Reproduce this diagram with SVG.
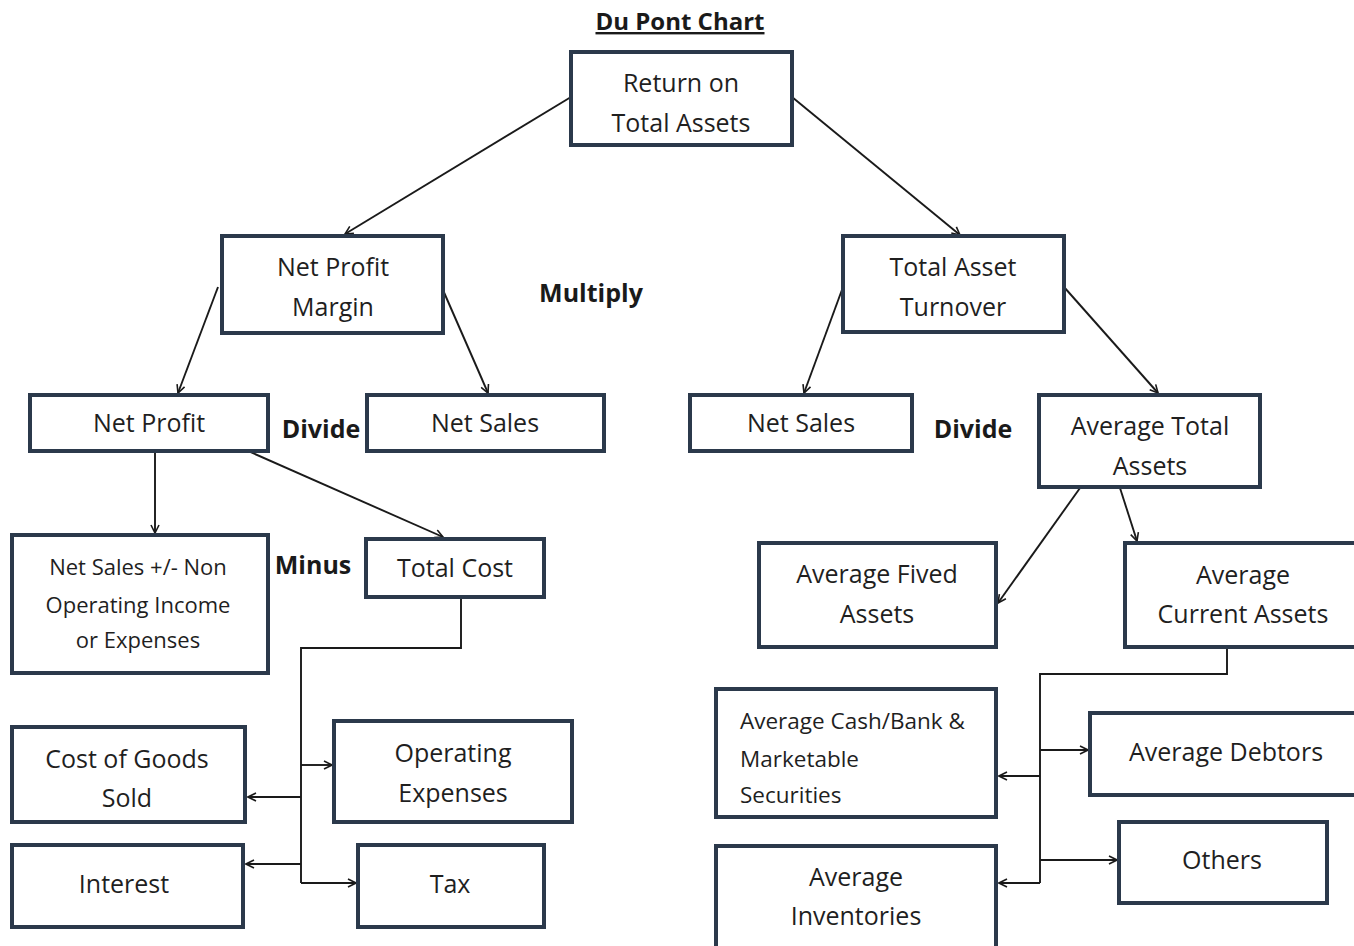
<svg xmlns="http://www.w3.org/2000/svg" width="1354" height="946" viewBox="0 0 1354 946">
<defs>
<style>
.box{fill:#ffffff;stroke:#2b394b;stroke-width:4}
.t{font-family:"Open Sans","Liberation Sans",sans-serif;font-size:25px;fill:#1f1f1f;text-anchor:middle}
.s{font-family:"Open Sans","Liberation Sans",sans-serif;font-size:22px;fill:#1f1f1f;text-anchor:middle}
.sl{font-family:"Open Sans","Liberation Sans",sans-serif;font-size:22.5px;fill:#1f1f1f}
.b{font-family:"Open Sans","Liberation Sans",sans-serif;font-size:25px;font-weight:bold;fill:#1a1a1a;text-anchor:middle}
.c{fill:none;stroke:#1a1a1a;stroke-width:1.9}
</style>
<marker id="ah" viewBox="0 0 10 10" refX="9" refY="5" markerWidth="10" markerHeight="10" markerUnits="userSpaceOnUse" orient="auto">
<path d="M1,1 L9,5 L1,9" fill="none" stroke="#1a1a1a" stroke-width="1.6"/>
</marker>
</defs>
<rect width="1354" height="946" fill="#ffffff"/>

<g id="title">
<text x="680" y="30" class="b" style="font-size:24px" text-decoration="underline">Du Pont Chart</text>
</g>

<g id="connectors">
<line class="c" x1="571" y1="97" x2="345" y2="234" marker-end="url(#ah)"/>
<line class="c" x1="792" y1="97" x2="960" y2="235" marker-end="url(#ah)"/>
<line class="c" x1="218" y1="287" x2="178" y2="393" marker-end="url(#ah)"/>
<line class="c" x1="443" y1="290" x2="488" y2="393" marker-end="url(#ah)"/>
<line class="c" x1="843" y1="287" x2="804" y2="393" marker-end="url(#ah)"/>
<line class="c" x1="1064" y1="287" x2="1158" y2="393" marker-end="url(#ah)"/>
<line class="c" x1="155" y1="451" x2="155" y2="533" marker-end="url(#ah)"/>
<line class="c" x1="248" y1="451" x2="443" y2="537" marker-end="url(#ah)"/>
<polyline class="c" points="461,598 461,648 301,648 301,883"/>
<line class="c" x1="301" y1="765" x2="332" y2="765" marker-end="url(#ah)"/>
<line class="c" x1="301" y1="797" x2="248" y2="797" marker-end="url(#ah)"/>
<line class="c" x1="301" y1="864" x2="246" y2="864" marker-end="url(#ah)"/>
<line class="c" x1="301" y1="883" x2="356" y2="883" marker-end="url(#ah)"/>
<line class="c" x1="1080" y1="488" x2="998" y2="603" marker-end="url(#ah)"/>
<line class="c" x1="1120" y1="488" x2="1137" y2="541" marker-end="url(#ah)"/>
<polyline class="c" points="1227,648 1227,674 1040,674 1040,883"/>
<line class="c" x1="1040" y1="750" x2="1088" y2="750" marker-end="url(#ah)"/>
<line class="c" x1="1040" y1="776" x2="999" y2="776" marker-end="url(#ah)"/>
<line class="c" x1="1040" y1="860" x2="1117" y2="860" marker-end="url(#ah)"/>
<line class="c" x1="1040" y1="883" x2="999" y2="883" marker-end="url(#ah)"/>
</g>

<g id="return-on-total-assets">
<rect class="box" x="571" y="52" width="221" height="93"/>
<text class="t" x="681" y="92">Return on</text>
<text class="t" x="681" y="132">Total Assets</text>
</g>
<g id="net-profit-margin">
<rect class="box" x="222" y="236" width="221" height="97"/>
<text class="t" x="333" y="276">Net Profit</text>
<text class="t" x="333" y="316">Margin</text>
</g>
<g id="total-asset-turnover">
<rect class="box" x="843" y="236" width="221" height="96"/>
<text class="t" x="953" y="276">Total Asset</text>
<text class="t" x="953" y="316">Turnover</text>
</g>
<g id="multiply"><text class="b" x="591" y="302">Multiply</text></g>
<g id="net-profit">
<rect class="box" x="30" y="395" width="238" height="56"/>
<text class="t" x="149" y="432">Net Profit</text>
</g>
<g id="divide-left"><text class="b" x="321" y="438">Divide</text></g>
<g id="net-sales-left">
<rect class="box" x="367" y="395" width="237" height="56"/>
<text class="t" x="485" y="432">Net Sales</text>
</g>
<g id="net-sales-right">
<rect class="box" x="690" y="395" width="222" height="56"/>
<text class="t" x="801" y="432">Net Sales</text>
</g>
<g id="divide-right"><text class="b" x="973" y="438">Divide</text></g>
<g id="average-total-assets">
<rect class="box" x="1039" y="395" width="221" height="92"/>
<text class="t" x="1150" y="435">Average Total</text>
<text class="t" x="1150" y="475">Assets</text>
</g>
<g id="net-sales-non-operating">
<rect class="box" x="12" y="535" width="256" height="138"/>
<text class="s" x="138" y="575">Net Sales +/- Non</text>
<text class="s" x="138" y="613">Operating Income</text>
<text class="s" x="138" y="648">or Expenses</text>
</g>
<g id="minus"><text class="b" x="313" y="574">Minus</text></g>
<g id="total-cost">
<rect class="box" x="366" y="539" width="178" height="58"/>
<text class="t" x="455" y="577">Total Cost</text>
</g>
<g id="average-fixed-assets">
<rect class="box" x="759" y="543" width="237" height="104"/>
<text class="t" x="877" y="583">Average Fived</text>
<text class="t" x="877" y="623">Assets</text>
</g>
<g id="average-current-assets">
<rect class="box" x="1125" y="543" width="240" height="104"/>
<text class="t" x="1243" y="584">Average</text>
<text class="t" x="1243" y="623">Current Assets</text>
</g>
<g id="cost-of-goods-sold">
<rect class="box" x="12" y="727" width="233" height="95"/>
<text class="t" x="127" y="768">Cost of Goods</text>
<text class="t" x="127" y="807">Sold</text>
</g>
<g id="operating-expenses">
<rect class="box" x="334" y="721" width="238" height="101"/>
<text class="t" x="453" y="762">Operating</text>
<text class="t" x="453" y="802">Expenses</text>
</g>
<g id="interest">
<rect class="box" x="12" y="845" width="231" height="82"/>
<text class="t" x="124" y="893">Interest</text>
</g>
<g id="tax">
<rect class="box" x="358" y="845" width="186" height="82"/>
<text class="t" x="450" y="893">Tax</text>
</g>
<g id="average-cash-bank">
<rect class="box" x="716" y="689" width="280" height="128"/>
<text class="sl" x="740" y="729">Average Cash/Bank &amp;</text>
<text class="sl" x="740" y="767">Marketable</text>
<text class="sl" x="740" y="803">Securities</text>
</g>
<g id="average-debtors">
<rect class="box" x="1090" y="713" width="274" height="82"/>
<text class="t" x="1226" y="761">Average Debtors</text>
</g>
<g id="others">
<rect class="box" x="1119" y="822" width="208" height="81"/>
<text class="t" x="1222" y="869">Others</text>
</g>
<g id="average-inventories">
<rect class="box" x="716" y="846" width="280" height="110"/>
<text class="t" x="856" y="886">Average</text>
<text class="t" x="856" y="925">Inventories</text>
</g>
</svg>
